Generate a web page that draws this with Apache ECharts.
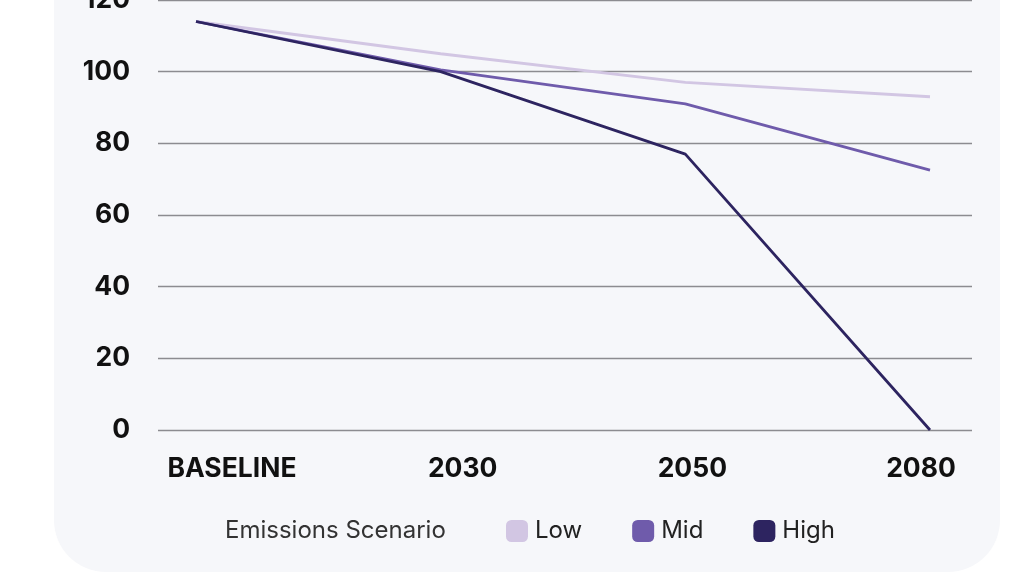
<!DOCTYPE html>
<html><head><meta charset="utf-8">
<script src="https://cdn.jsdelivr.net/npm/echarts@6/dist/echarts.min.js"></script>
<style>html,body{margin:0;padding:0;background:#fff}#c{width:1024px;height:575px}</style>
</head><body><div id="c"></div>
<script>
const categories = ['BASELINE', '2030', '2050', '2080'];
const lowValues = [114, 105, 97, 93];
const midValues = [114, 100.5, 91, 72.5];
const highValues = [114, 100, 77, 0];
const seriesNames = ['Low', 'Mid', 'High'];
const legendTitle = 'Emissions Scenario';
const colors = ['#d2c6e3', '#6f5bab', '#2d2460'];
const labelShift = {'BASELINE': 36, '2030': 22, '2050': 7, '2080': -9};

const font = 'Inter, "Noto Sans", sans-serif';
const chart = echarts.init(document.getElementById('c'), null, {renderer: 'canvas'});

const rich = {};
categories.forEach((c, i) => {
  const s = labelShift[c];
  rich['c' + i] = {
    fontFamily: font, fontWeight: 'bold', fontSize: 26.5, color: '#111',
    padding: s >= 0 ? [0, 0, 0, 2 * s] : [0, -2 * s, 0, 0]
  };
});

chart.setOption({
  backgroundColor: '#fff',
  animation: false,
  graphic: [
    {type: 'rect', z: -10, shape: {x: 54, y: -80, width: 946, height: 652, r: 52}, style: {fill: '#f6f7fa'}},
    {type: 'text', left: 225, top: 519, style: {text: legendTitle, font: '24px ' + font, fill: '#333'}}
  ],
  legend: {
    data: seriesNames,
    left: 501, top: 514,
    icon: 'roundRect',
    itemWidth: 22, itemHeight: 22, itemGap: 50,
    textStyle: {fontFamily: font, fontSize: 24, color: '#222', padding: [0, 0, 0, 2]}
  },
  grid: [
    {left: 158, right: 52, top: 0, bottom: 145, outerBoundsMode: 'none', containLabel: false},
    {left: 196, right: 94, top: 0, bottom: 145, outerBoundsMode: 'none', containLabel: false}
  ],
  xAxis: [
    {gridIndex: 0, type: 'value', min: 0, max: 1, show: false},
    {gridIndex: 1, type: 'category', data: categories, boundaryGap: false,
     axisLine: {show: false}, axisTick: {show: false},
     axisLabel: {margin: 26, formatter: (v, i) => '{c' + i + '|' + v + '}', rich: rich}}
  ],
  yAxis: [
    {gridIndex: 0, type: 'value', min: 0, max: 120, interval: 20,
     axisLine: {show: false}, axisTick: {show: false},
     splitLine: {lineStyle: {color: '#8c8c90', width: 1.3}},
     axisLabel: {margin: 28, fontFamily: font, fontWeight: 'bold', fontSize: 26.5, color: '#111'}},
    {gridIndex: 1, type: 'value', min: 0, max: 120, interval: 20, show: false}
  ],
  series: [
    {name: seriesNames[0], type: 'line', xAxisIndex: 1, yAxisIndex: 1, data: lowValues, showSymbol: false,
     itemStyle: {color: colors[0]}, lineStyle: {color: colors[0], width: 2.8}},
    {name: seriesNames[1], type: 'line', xAxisIndex: 1, yAxisIndex: 1, data: midValues, showSymbol: false,
     itemStyle: {color: colors[1]}, lineStyle: {color: colors[1], width: 2.8}},
    {name: seriesNames[2], type: 'line', xAxisIndex: 1, yAxisIndex: 1, data: highValues, showSymbol: false,
     itemStyle: {color: colors[2]}, lineStyle: {color: colors[2], width: 2.8}}
  ]
});
</script></body></html>
